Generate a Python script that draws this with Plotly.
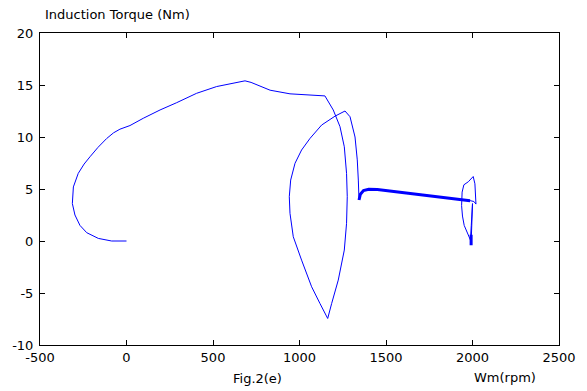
import plotly.graph_objects as go

# Transient trajectory: speed (rpm) vs induction torque (Nm)
start_speed = [0, -86, -163, -230, -269, -298, -313, -307, -279, -245, -211, -165, -115, -75, -38,
               20, 97, 194, 290, 405, 521, 617, 685, 720, 830, 945, 1050, 1147, 1195, 1234, 1259,
               1272, 1276, 1272, 1259, 1224, 1186, 1163, 1118, 1070, 1012, 964, 945, 941, 949, 974,
               1012, 1061, 1128, 1205, 1263, 1292, 1321, 1334, 1340, 1344]
start_torque = [0, 0, 0.25, 0.8, 1.5, 2.5, 3.6, 5.2, 6.5, 7.4, 8.1, 9.0, 9.85, 10.4, 10.75,
                11.1, 11.8, 12.6, 13.3, 14.2, 14.85, 15.15, 15.4, 15.25, 14.5, 14.15, 14.05, 13.95, 12.6, 11.0, 9.06,
                6.5, 4.26, 1.7, -0.87, -3.76, -6.0, -7.45, -6.0, -4.4, -1.84, 0.41, 2.66, 4.26, 5.86, 7.47,
                8.75, 9.87, 11.15, 12.0, 12.5, 11.95, 10.0, 7.8, 5.86, 3.94]

steady_speed = [1344, 1352, 1370, 1400, 1450, 1500, 1600, 1700, 1800, 1870, 1928, 1986]
steady_torque = [3.94, 4.5, 4.85, 4.97, 4.95, 4.85, 4.65, 4.45, 4.28, 4.12, 4.0, 3.88]

loop_speed = [1986, 2008, 2020, 2016, 2014, 2004, 1990, 1976, 1950, 1940, 1937, 1942, 1952, 1966,
              1980, 1988, 1993, 1996, 2000, 1997, 1994, 1992]
loop_torque = [3.88, 3.8, 3.55, 4.5, 5.5, 6.2, 5.9, 5.7, 5.4, 4.7, 3.4, 2.4, 1.5, 0.9,
               0.4, 0.1, 1.5, 3.0, 3.6, 2.0, 0.5, -0.3]

end_speed = [1992, 1992, 1992]
end_torque = [0.6, -0.4, 0.2]

x_ticks = [-500, 0, 500, 1000, 1500, 2000, 2500]
y_ticks = [-10, -5, 0, 5, 10, 15, 20]

BLUE = "#0000ff"
FONT = "DejaVu Sans"

fig = go.Figure()
fig.add_trace(go.Scatter(x=start_speed, y=start_torque, mode="lines",
                         line=dict(color=BLUE, width=1)))
fig.add_trace(go.Scatter(x=steady_speed, y=steady_torque, mode="lines",
                         line=dict(color=BLUE, width=3)))
fig.add_trace(go.Scatter(x=loop_speed, y=loop_torque, mode="lines",
                         line=dict(color=BLUE, width=1)))
fig.add_trace(go.Scatter(x=end_speed, y=end_torque, mode="lines",
                         line=dict(color=BLUE, width=3)))

axis_common = dict(showgrid=False, zeroline=False, showline=True, linecolor="black",
                   linewidth=1, mirror="ticks", ticks="inside", ticklen=5, tickwidth=1,
                   tickcolor="black", automargin=False,
                   tickfont=dict(family=FONT, size=13, color="black"))

fig.update_xaxes(range=[-500, 2500], tickvals=x_ticks, ticktext=[str(v) for v in x_ticks],
                 **axis_common)
fig.update_yaxes(range=[-10, 20], tickvals=y_ticks, ticktext=[str(v) for v in y_ticks],
                 ticklabelstandoff=3, **axis_common)

# page body has an 8px margin, so the figure is made 8px smaller and margins shifted
fig.update_layout(
    width=579, height=383,
    margin=dict(l=32, r=28, t=25, b=46),
    paper_bgcolor="white", plot_bgcolor="white",
    showlegend=False,
    font=dict(family=FONT, size=13, color="black"),
    annotations=[
        dict(text="Induction Torque (Nm)", xref="paper", yref="paper", x=0.149, y=1.0,
             xanchor="center", yanchor="bottom", yshift=9, showarrow=False,
             font=dict(family=FONT, size=13, color="black")),
        dict(text="Fig.2(e)", xref="paper", yref="paper", x=0.42, y=0, yanchor="middle",
             xanchor="center", yshift=-33, showarrow=False,
             font=dict(family=FONT, size=13, color="black")),
        dict(text="Wm(rpm)", xref="paper", yref="paper", x=0.896, y=0, yanchor="middle",
             xanchor="center", yshift=-32, showarrow=False,
             font=dict(family=FONT, size=13, color="black")),
    ],
)

fig.write_html("out.html")
